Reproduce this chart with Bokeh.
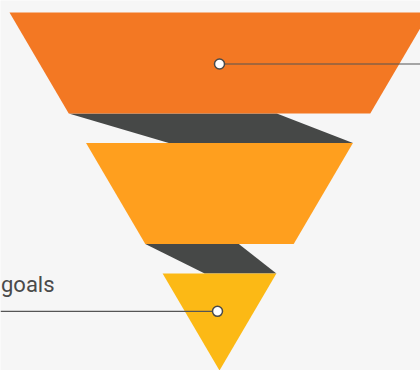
from bokeh.plotting import figure
from bokeh.models import Range1d
from bokeh.core.properties import value
from bokeh.embed import file_html
from bokeh.resources import INLINE

# ---- data ----
stages = ["Visitors", "Leads", "goals"]
values = [101, 101, 97]
colors = ["#F37823", "#FF9F1E", "#FCB915"]
label_side = ["right", "none", "left"]

# ---- layout parameters ----
W, H = 420, 370
top_y = 12.0
apex_y = 370.0
cx = 219.0
half_top = 210.0
link_h = 29.5
link_ratio = [0.69, 0.63]
anchor_frac = [0.51, 0.5, 0.39]

total_val = sum(values)
avail = (apex_y - top_y) - link_h * (len(values) - 1)
k = half_top / (apex_y - top_y)


def hw(y):
    return (apex_y - y) * k


p = figure(width=W, height=H, x_range=Range1d(0, W), y_range=Range1d(H, 0),
           toolbar_location=None, output_backend="svg", min_border=0)
p.axis.visible = False
p.xgrid.visible = False
p.ygrid.visible = False
p.outline_line_color = None
p.background_fill_color = "#F6F6F6"
p.border_fill_color = "#F6F6F6"

slices_xs, slices_ys = [], []
link_xs, link_ys = [], []
bounds = []
y = top_y
for i, v in enumerate(values):
    h = v / total_val * avail
    t, b = y, y + h
    bounds.append((t, b))
    slices_xs.append([cx - hw(t), cx + hw(t), cx + hw(b), cx - hw(b)])
    slices_ys.append([t, t, b, b])
    y = b + link_h

for i in range(len(values) - 1):
    b = bounds[i][1]
    t2 = bounds[i + 1][0]
    la, ra = cx - hw(b), cx + hw(b)
    lb, rb = cx - hw(t2), cx + hw(t2)
    r = link_ratio[i]
    link_xs.append([la, la + r * (ra - la), rb, rb - r * (rb - lb)])
    link_ys.append([b, b, t2, t2])

p.patches(link_xs, link_ys, fill_color="#464847", line_color=None)
p.patches(slices_xs, slices_ys, fill_color=colors, line_color=None)

# ticks & markers
for i, side in enumerate(label_side):
    if side == "none":
        continue
    t, b = bounds[i]
    my = t + anchor_frac[i] * (b - t)
    mx = cx if side == "right" else cx - 2
    if side == "right":
        p.line([mx, W], [my, my], line_color="#555555", line_width=1.2)
    else:
        p.line([0, mx], [my, my], line_color="#555555", line_width=1.2)
    p.scatter([mx], [my], size=10, fill_color="white", line_color="#4a4a4a",
              line_width=1.5)

# visible label text (left side)
p.text(x=[0.5], y=[284], text=[stages[2]], text_align="left",
       text_baseline="alphabetic", text_font=value("Roboto"),
       text_font_size="22px", text_color="#4a4a4a")

open("out.html", "w").write(file_html(p, INLINE))
